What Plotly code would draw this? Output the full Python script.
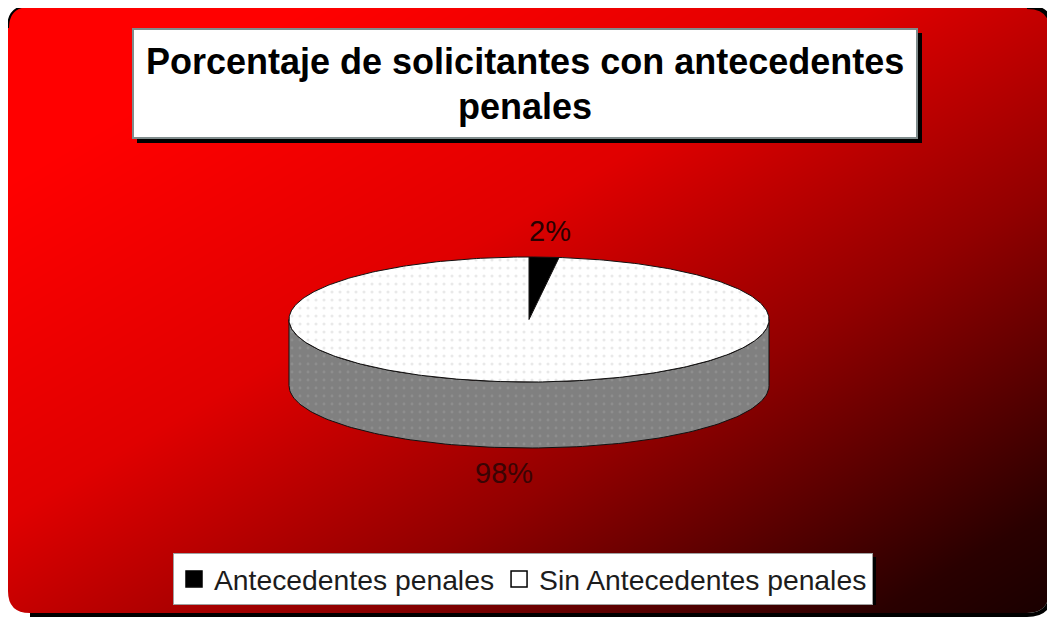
import numpy as np
import plotly.graph_objects as go

# ---------------- data ----------------
labels = ["Antecedentes penales", "Sin Antecedentes penales"]
values = [2, 98]
title_lines = ["Porcentaje de solicitantes con antecedentes", "penales"]

# ---------------- styles ----------------
top_colors = ["#000000", "#ffffff"]
side_colors = ["#000000", "#808080"]
dot_colors = [None, "#d4d4d4"]
side_dot_colors = [None, "#9c9c9c"]
label_colors = ["#2a0000", "#3a0404"]
FONT = "Liberation Sans, Arial, sans-serif"

W, H = 1055, 620
OFF = 8  # page body margin compensation
CX, CY, RX, RY, DEPTH = 529, 319.5, 240, 62.5, 66


def ell(theta_deg, dy=0.0):
    t = np.radians(theta_deg)
    return CX + RX * np.sin(t), CY - RY * np.cos(t) + dy


def px(X):
    return (X - OFF) / (W - OFF)


def py(Y):
    return 1 - (Y - OFF) / (H - OFF)


fig = go.Figure()

# background gradient (decorative)
gx = np.linspace(0, W, 45)
gy = np.linspace(0, H, 27)
Z = gx[None, :] / W + gy[:, None] / H
fig.add_trace(go.Heatmap(
    x=gx, y=gy, z=Z, zmin=0, zmax=2, zsmooth="best", showscale=False,
    hoverinfo="skip",
    colorscale=[[0.0, "#ff0000"], [0.15, "#ff0000"], [0.42, "#e00000"],
                [0.65, "#920000"], [0.91, "#2a0000"], [1.0, "#180000"]],
))

fractions = np.array(values, dtype=float) / sum(values)
ends = np.cumsum(fractions) * 360
starts = ends - fractions * 360

# side walls (front half only: 90..270 deg clockwise from top)
for i in range(len(values)):
    a, b = max(starts[i], 90), min(ends[i], 270)
    if a < b:
        th = np.linspace(a, b, 120)
        ux, uy = ell(th)
        lx, ly = ell(th[::-1], DEPTH)
        xs = np.concatenate([ux, lx, ux[:1]])
        ys = np.concatenate([uy, ly, uy[:1]])
        kw = {}
        if side_dot_colors[i]:
            kw["fillpattern"] = dict(shape=".", fgcolor=side_dot_colors[i],
                                     bgcolor=side_colors[i], size=8, solidity=0.1)
        fig.add_trace(go.Scatter(
            x=xs, y=ys, mode="lines", fill="toself", fillcolor=side_colors[i],
            line=dict(color="#111111", width=1), hoverinfo="skip",
            showlegend=False, **kw))

# top faces
for i in range(len(values)):
    th = np.linspace(starts[i], ends[i], max(8, int(fractions[i] * 400)))
    ax, ay = ell(th)
    xs = np.concatenate([[CX], ax, [CX]])
    ys = np.concatenate([[CY], ay, [CY]])
    kw = {}
    if dot_colors[i]:
        kw["fillpattern"] = dict(shape=".", fgcolor=dot_colors[i],
                                 bgcolor=top_colors[i], size=8, solidity=0.12)
    fig.add_trace(go.Scatter(
        x=xs, y=ys, mode="lines", fill="toself", fillcolor=top_colors[i],
        line=dict(color="#111111", width=1), hoverinfo="skip",
        showlegend=False, **kw))

# legend entries
for i in range(len(values)):
    fig.add_trace(go.Scatter(
        x=[None], y=[None], mode="markers", name=labels[i],
        marker=dict(symbol="square", size=16, color=top_colors[i],
                    line=dict(color="#000000", width=1.5))))

# percentage labels
for i in range(len(values)):
    mid = (starts[i] + ends[i]) / 2
    lx, ly = ell(mid)
    if np.cos(np.radians(mid)) >= 0:
        ly = ly - 26
        lx = lx + 6
    else:
        ly = ly + DEPTH + 25
        lx = lx - 10
    fig.add_annotation(x=lx, y=ly, xref="x", yref="y", showarrow=False,
                       text=f"{values[i]:.0f}%",
                       font=dict(family=FONT, size=29, color=label_colors[i]),
                       xanchor="center", yanchor="middle")

# title lines
for k, (line, yy) in enumerate(zip(title_lines, [61, 106])):
    fig.add_annotation(x=525, y=yy, xref="x", yref="y", showarrow=False,
                       text=f"<b>{line}</b>",
                       font=dict(family=FONT, size=36, color="#000000"),
                       xanchor="center", yanchor="middle")

# frame geometry
x0, y0, x1, y1, r = 8, 6, 1049, 613, 22
rr = (f"M{x0+r},{y0} L{x1-r},{y0} Q{x1},{y0} {x1},{y0+r} L{x1},{y1-r} "
      f"Q{x1},{y1} {x1-r},{y1} L{x0+r},{y1} Q{x0},{y1} {x0},{y1-r} "
      f"L{x0},{y0+r} Q{x0},{y0} {x0+r},{y0} Z")
mask = f"M-5,-5 L{W+5},-5 L{W+5},{H+5} L-5,{H+5} Z " + rr
shadow = (f"M{x1-r},{y0+1} Q{x1+2},{y0+1} {x1+2},{y0+r} L{x1+2},{y1-r} "
          f"Q{x1+2},{y1+2} {x1-r},{y1+2} L{x0+r},{y1+2}")
tl = f"M{x0},{y0+r} Q{x0},{y0} {x0+r},{y0}"

shapes = [
    dict(type="path", path=mask, xref="x", yref="y", fillcolor="#ffffff",
         fillrule="evenodd", line=dict(width=0), layer="above"),
    dict(type="path", path=shadow, xref="x", yref="y", fillcolor="rgba(0,0,0,0)",
         line=dict(color="#000000", width=4), layer="above"),
    dict(type="path", path=tl, xref="x", yref="y", fillcolor="rgba(0,0,0,0)",
         line=dict(color="#000000", width=2), layer="above"),
    # title box
    dict(type="rect", x0=137, y0=33, x1=922, y1=143, xref="x", yref="y",
         fillcolor="#000000", line=dict(width=0), layer="above"),
    dict(type="rect", x0=133, y0=29, x1=917, y1=138, xref="x", yref="y",
         fillcolor="#ffffff", line=dict(color="#7f8c8c", width=2), layer="above"),
    # legend shadow
    dict(type="rect", x0=177, y0=557, x1=876, y1=605, xref="x", yref="y",
         fillcolor="#000000", line=dict(width=0), layer="above"),
]

fig.update_layout(
    width=W - OFF, height=H - OFF, autosize=False,
    margin=dict(l=0, r=0, t=0, b=0),
    paper_bgcolor="#ffffff", plot_bgcolor="#ffffff",
    xaxis=dict(range=[OFF, W], visible=False, fixedrange=True),
    yaxis=dict(range=[H, OFF], visible=False, fixedrange=True),
    shapes=shapes,
    showlegend=True,
    legend=dict(orientation="h", x=px(173), y=py(553), xanchor="left",
                yanchor="top", bgcolor="#ffffff", bordercolor="#a0a0a0",
                borderwidth=1, font=dict(family=FONT, size=28.3, color="#1c1c1c"),
                itemclick=False, itemdoubleclick=False),
    hovermode=False,
)

fig.write_html("out.html")
